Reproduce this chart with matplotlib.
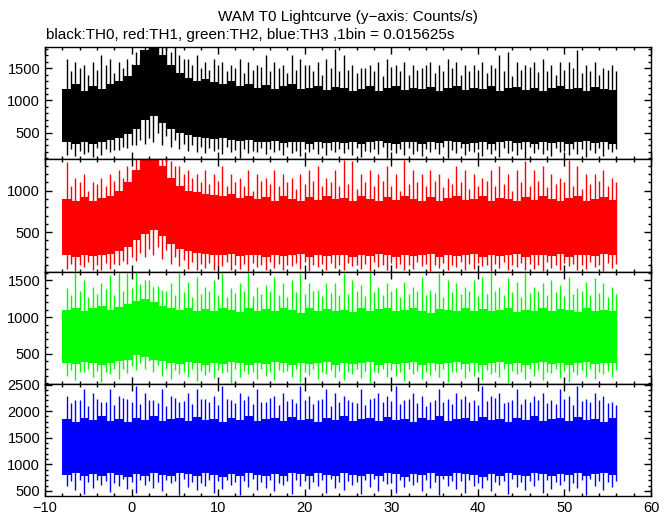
import numpy as np
import matplotlib
matplotlib.use("Agg")
import matplotlib.pyplot as plt
from matplotlib.ticker import MultipleLocator

plt.rcParams['font.family'] = ['Liberation Sans', 'DejaVu Sans']

#%% Datos (cuentas/s), un valor por segundo

# bordes de cada segundo, centros (picos principales) y enteros (picos secundarios)
bordes_t = list(range(-8, 57))
t_spk = [i + 0.5 for i in range(-8, 56)]
t_spk2 = [i for i in range(-7, 57)]

# TH0 (negro)
th0_top = [1180, 1250, 1150, 1220, 1180, 1260, 1300, 1380, 1550, 1780, 1830, 1700, 1550, 1420, 1350, 1300,
           1330, 1280, 1250, 1300, 1220, 1260, 1200, 1240, 1180, 1220, 1250, 1170, 1200, 1230, 1160, 1210,
           1200, 1150, 1180, 1220, 1140, 1190, 1230, 1160, 1200, 1170, 1210, 1150, 1190, 1230, 1160, 1200,
           1180, 1220, 1150, 1190, 1210, 1160, 1200, 1140, 1190, 1220, 1170, 1200, 1150, 1210, 1180, 1160]
th0_bot = [350, 320, 360, 330, 350, 380, 420, 480, 560, 700, 760, 650, 560, 500, 460, 430,
           420, 400, 410, 380, 370, 390, 360, 350, 370, 340, 360, 350, 330, 360, 340, 350,
           340, 360, 330, 350, 370, 340, 320, 360, 350, 330, 360, 340, 370, 350, 320, 340,
           360, 330, 350, 370, 340, 360, 330, 350, 340, 360, 320, 350, 370, 340, 350, 330]
th0_hi = [1650, 1600, 1550, 1600, 1700, 1650, 1600, 1650, 1750, 1830, 1830, 1830, 1750, 1700, 1650, 1700,
          1600, 1650, 1600, 1550, 1650, 1600, 1550, 1700, 1600, 1550, 1700, 1650, 1550, 1600, 1650, 1800,
          1700, 1550, 1500, 1550, 1600, 1650, 1550, 1600, 1550, 1500, 1600, 1550, 1650, 1600, 1550, 1550,
          1600, 1550, 1700, 1750, 1600, 1550, 1600, 1650, 1550, 1600, 1600, 1780, 1550, 1600, 1500, 1550]
th0_lo = [150, 130, 160, 120, 150, 200, 230, 260, 300, 330, 350, 300, 280, 250, 220, 200,
          180, 210, 170, 200, 100, 180, 200, 160, 200, 150, 180, 130, 200, 170, 150, 200,
          180, 150, 120, 200, 160, 100, 190, 150, 170, 130, 200, 160, 110, 180, 150, 200,
          140, 170, 120, 190, 150, 100, 180, 160, 130, 200, 150, 170, 120, 180, 140, 200]
th0_hi2 = [1450, 1500, 1400, 1480, 1550, 1420, 1500, 1560, 1650, 1830, 1830, 1830, 1830, 1650, 1550, 1500,
           1480, 1550, 1450, 1500, 1420, 1480, 1520, 1450, 1500, 1420, 1480, 1550, 1450, 1400, 1500, 1450,
           1480, 1420, 1500, 1450, 1380, 1520, 1450, 1400, 1480, 1550, 1420, 1460, 1500, 1400, 1450, 1480,
           1420, 1500, 1450, 1380, 1480, 1520, 1440, 1460, 1400, 1480, 1500, 1420, 1460, 1400, 1480, 1450]
th0_lo2 = [250, 220, 200, 260, 240, 230, 280, 300, 380, 420, 500, 450, 380, 330, 300, 280,
           260, 240, 270, 230, 250, 220, 260, 240, 230, 270, 220, 250, 240, 260, 230, 250,
           240, 260, 220, 250, 270, 230, 240, 260, 220, 250, 240, 270, 230, 260, 220, 250,
           240, 230, 260, 220, 250, 270, 240, 230, 260, 220, 250, 240, 230, 260, 250, 240]

# TH1 (rojo)
th1_top = [900, 870, 920, 880, 910, 940, 1000, 1100, 1250, 1380, 1380, 1300, 1150, 1050, 1000, 980,
           960, 950, 930, 960, 910, 940, 900, 920, 880, 930, 900, 870, 920, 890, 940, 900,
           910, 880, 930, 900, 870, 920, 890, 940, 900, 880, 920, 870, 910, 940, 890, 900,
           930, 880, 910, 900, 870, 920, 890, 930, 900, 870, 910, 940, 880, 900, 920, 890]
th1_bot = [220, 200, 230, 210, 220, 240, 270, 320, 400, 480, 520, 450, 360, 300, 270, 250,
           240, 230, 220, 240, 210, 230, 220, 200, 230, 210, 220, 240, 200, 230, 210, 220,
           220, 200, 230, 210, 240, 220, 200, 230, 210, 220, 240, 200, 230, 210, 220, 240,
           200, 230, 210, 220, 240, 200, 220, 230, 210, 240, 200, 220, 230, 210, 240, 220]
th1_hi = [1345, 1150, 1200, 1100, 1150, 1200, 1250, 1300, 1380, 1380, 1380, 1380, 1350, 1300, 1250, 1200,
          1250, 1200, 1300, 1200, 1150, 1250, 1200, 1150, 1250, 1200, 1150, 1200, 1250, 1300, 1150, 1250,
          1365, 1350, 1200, 1250, 1200, 1300, 1200, 1365, 1250, 1200, 1250, 1200, 1150, 1300, 1250, 1200,
          1150, 1250, 1300, 1200, 1250, 1350, 1250, 1300, 1200, 1150, 1365, 1300, 1200, 1200, 1250, 1150]
th1_lo = [60, 30, 80, 50, 40, 60, 100, 120, 150, 200, 220, 180, 120, 90, 60, 40,
          70, 50, 90, 40, 60, 30, 80, 50, 70, 40, 90, 60, 30, 80, 50, 70,
          40, 90, 60, 30, 80, 50, 70, 40, 60, 90, 30, 70, 50, 80, 40, 60,
          90, 30, 70, 50, 80, 40, 60, 30, 70, 50, 90, 40, 60, 80, 30, 70]
th1_hi2 = [1050, 1100, 1000, 1080, 1050, 1120, 1150, 1250, 1380, 1380, 1380, 1380, 1300, 1200, 1150, 1100,
           1080, 1120, 1050, 1100, 1060, 1000, 1120, 1080, 1050, 1100, 1020, 1080, 1120, 1050, 1100, 1060,
           1080, 1020, 1100, 1050, 1120, 1060, 1000, 1080, 1100, 1050, 1120, 1040, 1080, 1100, 1020, 1060,
           1120, 1050, 1080, 1000, 1100, 1060, 1120, 1040, 1080, 1100, 1050, 1020, 1080, 1120, 1060, 1100]
th1_lo2 = [120, 100, 140, 110, 130, 120, 150, 200, 250, 300, 320, 280, 200, 160, 140, 120,
           130, 110, 140, 100, 120, 130, 110, 140, 120, 100, 130, 140, 110, 120, 130, 100,
           130, 110, 120, 140, 100, 130, 120, 110, 140, 120, 100, 130, 110, 140, 120, 130,
           100, 120, 140, 110, 130, 120, 100, 140, 110, 130, 120, 100, 140, 110, 130, 120]

# TH2 (verde)
th2_top = [1100, 1130, 1080, 1120, 1150, 1100, 1140, 1180, 1220, 1250, 1200, 1150, 1120, 1100, 1130, 1080,
           1110, 1090, 1130, 1100, 1070, 1120, 1090, 1110, 1080, 1120, 1100, 1060, 1130, 1090, 1110, 1080,
           1100, 1070, 1120, 1090, 1110, 1130, 1080, 1100, 1120, 1090, 1060, 1110, 1100, 1080, 1130, 1090,
           1110, 1080, 1100, 1120, 1070, 1100, 1090, 1120, 1080, 1110, 1100, 1070, 1120, 1090, 1100, 1080]
th2_bot = [380, 360, 390, 370, 350, 380, 400, 420, 480, 460, 420, 400, 380, 360, 390, 370,
           350, 380, 360, 390, 370, 350, 380, 360, 390, 370, 350, 380, 360, 370, 390, 350,
           380, 360, 370, 390, 350, 380, 360, 370, 390, 350, 380, 360, 370, 390, 360, 380,
           350, 370, 390, 360, 380, 350, 370, 390, 360, 380, 350, 370, 390, 360, 380, 370]
th2_hi = [1394, 1599, 1508, 1417, 1462, 1576, 1599, 1599, 1610, 1508, 1417, 1372, 1462, 1599, 1485, 1553,
          1417, 1508, 1599, 1394, 1462, 1599, 1417, 1440, 1553, 1462, 1508, 1599, 1462, 1372, 1462, 1462,
          1599, 1508, 1440, 1599, 1417, 1462, 1394, 1485, 1417, 1553, 1372, 1599, 1508, 1462, 1417, 1508,
          1553, 1599, 1417, 1530, 1485, 1599, 1417, 1462, 1508, 1440, 1553, 1394, 1485, 1530, 1462, 1417]
th2_lo = [200, 150, 250, 180, 120, 220, 160, 240, 280, 300, 250, 200, 160, 230, 180, 130,
          210, 170, 240, 110, 190, 230, 160, 200, 140, 250, 180, 120, 210, 160, 230, 190,
          150, 220, 170, 110, 240, 180, 200, 130, 230, 160, 210, 190, 120, 250, 170, 200,
          140, 220, 180, 110, 230, 160, 200, 150, 240, 170, 120, 210, 190, 160, 230, 180]
th2_hi2 = [1300, 1350, 1280, 1320, 1380, 1300, 1350, 1400, 1450, 1500, 1420, 1350, 1300, 1340, 1280, 1320,
           1350, 1300, 1270, 1330, 1360, 1290, 1320, 1350, 1300, 1280, 1340, 1310, 1360, 1290, 1330, 1300,
           1320, 1350, 1290, 1340, 1300, 1360, 1280, 1320, 1350, 1300, 1330, 1270, 1340, 1310, 1360, 1290,
           1320, 1350, 1300, 1340, 1280, 1330, 1360, 1300, 1340, 1290, 1320, 1350, 1300, 1330, 1280, 1320]
th2_lo2 = [280, 260, 300, 270, 250, 290, 300, 330, 380, 400, 350, 300, 280, 260, 290, 270,
           250, 280, 260, 300, 270, 250, 290, 260, 280, 270, 300, 250, 290, 260, 280, 270,
           260, 290, 270, 250, 300, 280, 260, 290, 270, 250, 280, 300, 260, 290, 270, 250,
           280, 260, 300, 270, 250, 290, 280, 260, 300, 270, 250, 280, 290, 260, 270, 280]

# TH3 (azul)
th3_top = [1850, 1800, 1880, 1830, 1900, 1820, 1860, 1800, 1880, 1840, 1900, 1820, 1850, 1870, 1810, 1890,
           1830, 1860, 1800, 1880, 1840, 1900, 1820, 1850, 1870, 1810, 1890, 1830, 1860, 1800, 1880, 1840,
           1900, 1820, 1850, 1870, 1810, 1890, 1830, 1860, 1800, 1880, 1840, 1900, 1820, 1850, 1870, 1810,
           1890, 1830, 1860, 1800, 1880, 1840, 1900, 1820, 1850, 1870, 1810, 1890, 1830, 1860, 1800, 1880]
th3_bot = [800, 830, 780, 820, 790, 840, 800, 770, 820, 790, 830, 800, 780, 840, 810, 790,
           830, 800, 770, 820, 790, 840, 800, 780, 820, 790, 830, 810, 780, 840, 800, 790,
           830, 800, 780, 820, 790, 840, 810, 770, 820, 800, 830, 790, 780, 840, 810, 800,
           770, 820, 790, 830, 800, 780, 840, 810, 790, 820, 800, 830, 780, 810, 840, 800]
th3_hi = [2290, 2200, 2416, 2350, 2167, 2420, 2290, 2230, 2479, 2350, 2200, 2416, 2290, 2167, 2350, 2420,
          2230, 2290, 2479, 2200, 2350, 2290, 2416, 2167, 2290, 2350, 2230, 2479, 2290, 2200, 2416, 2350,
          2290, 2167, 2416, 2230, 2350, 2290, 2479, 2200, 2350, 2290, 2167, 2416, 2230, 2350, 2290, 2200,
          2479, 2290, 2350, 2167, 2416, 2230, 2290, 2350, 2200, 2416, 2290, 2479, 2230, 2350, 2290, 2167]
th3_lo = [600, 520, 450, 560, 620, 480, 590, 530, 460, 610, 550, 500, 640, 420, 570, 510,
          600, 470, 540, 620, 430, 580, 510, 560, 490, 620, 450, 590, 530, 600, 470, 550,
          520, 610, 440, 580, 500, 630, 460, 570, 610, 490, 550, 420, 600, 530, 470, 590,
          560, 500, 620, 450, 580, 510, 600, 470, 540, 620, 490, 560, 430, 600, 520, 580]
th3_hi2 = [2150, 2200, 2100, 2230, 2170, 2120, 2250, 2180, 2130, 2210, 2160, 2100, 2240, 2190, 2140, 2220,
           2170, 2110, 2230, 2150, 2200, 2130, 2180, 2250, 2120, 2190, 2160, 2210, 2140, 2230, 2100, 2180,
           2200, 2150, 2120, 2240, 2170, 2190, 2130, 2220, 2160, 2100, 2210, 2180, 2140, 2230, 2170, 2120,
           2190, 2250, 2150, 2200, 2130, 2180, 2210, 2160, 2140, 2230, 2110, 2190, 2170, 2200, 2150, 2120]
th3_lo2 = [680, 700, 660, 710, 690, 650, 720, 670, 700, 680, 660, 710, 690, 720, 670, 650,
           700, 680, 710, 660, 690, 720, 670, 700, 650, 690, 710, 680, 660, 700, 720, 670,
           690, 660, 700, 720, 680, 650, 710, 690, 670, 700, 660, 720, 680, 690, 710, 650,
           700, 670, 690, 720, 660, 680, 700, 710, 670, 690, 650, 700, 720, 680, 660, 690]

paneles = [
    (th0_top, th0_bot, th0_hi, th0_lo, th0_hi2, th0_lo2, 'black', (90, 1830), [500, 1000, 1500]),
    (th1_top, th1_bot, th1_hi, th1_lo, th1_hi2, th1_lo2, '#ff0000', (20, 1380), [500, 1000]),
    (th2_top, th2_bot, th2_hi, th2_lo, th2_hi2, th2_lo2, '#00ff00', (90, 1615), [500, 1000, 1500]),
    (th3_top, th3_bot, th3_hi, th3_lo, th3_hi2, th3_lo2, '#0000ff', (405, 2510), [500, 1000, 1500, 2000, 2500]),
]

#%% Grafico

W, H = 672, 515
fig = plt.figure(figsize=(W / 100, H / 100), dpi=100)

x0, x1 = 45, 651
cortes = [47, 159, 272, 384, 496]

for i, (top, bot, hi, lo, hi2, lo2, col, ylim, yt) in enumerate(paneles):
    ya, yb = cortes[i], cortes[i + 1]
    ax = fig.add_axes([x0 / W, 1 - yb / H, (x1 - x0) / W, (yb - ya) / H])
    ax.stairs(top, bordes_t, baseline=bot, fill=True, color=col, lw=0)
    ax.vlines(t_spk, lo, hi, color=col, lw=1.0)
    ax.vlines(t_spk2, lo2, hi2, color=col, lw=1.0)
    ax.set_xlim(-10, 60)
    ax.set_ylim(*ylim)
    ax.set_yticks(yt)
    ax.xaxis.set_major_locator(MultipleLocator(10))
    ax.xaxis.set_minor_locator(MultipleLocator(2))
    ax.yaxis.set_minor_locator(MultipleLocator(100))
    ax.tick_params(which='both', direction='in', top=True, right=True,
                   labelsize=10.5, width=1, colors='black')
    ax.tick_params(which='major', length=5)
    ax.tick_params(which='minor', length=2.5)
    for s in ax.spines.values():
        s.set_linewidth(1)
    if i < 3:
        ax.tick_params(labelbottom=False)

fig.text(348 / W, 1 - 17 / H, 'WAM T0 Lightcurve (y\u2212axis: Counts/s)',
         ha='center', va='center', fontsize=11)
fig.text(46 / W, 1 - 35 / H, 'black:TH0, red:TH1, green:TH2, blue:TH3 ,1bin = 0.015625s',
         ha='left', va='center', fontsize=11)

fig.savefig('out.png', dpi=100)
